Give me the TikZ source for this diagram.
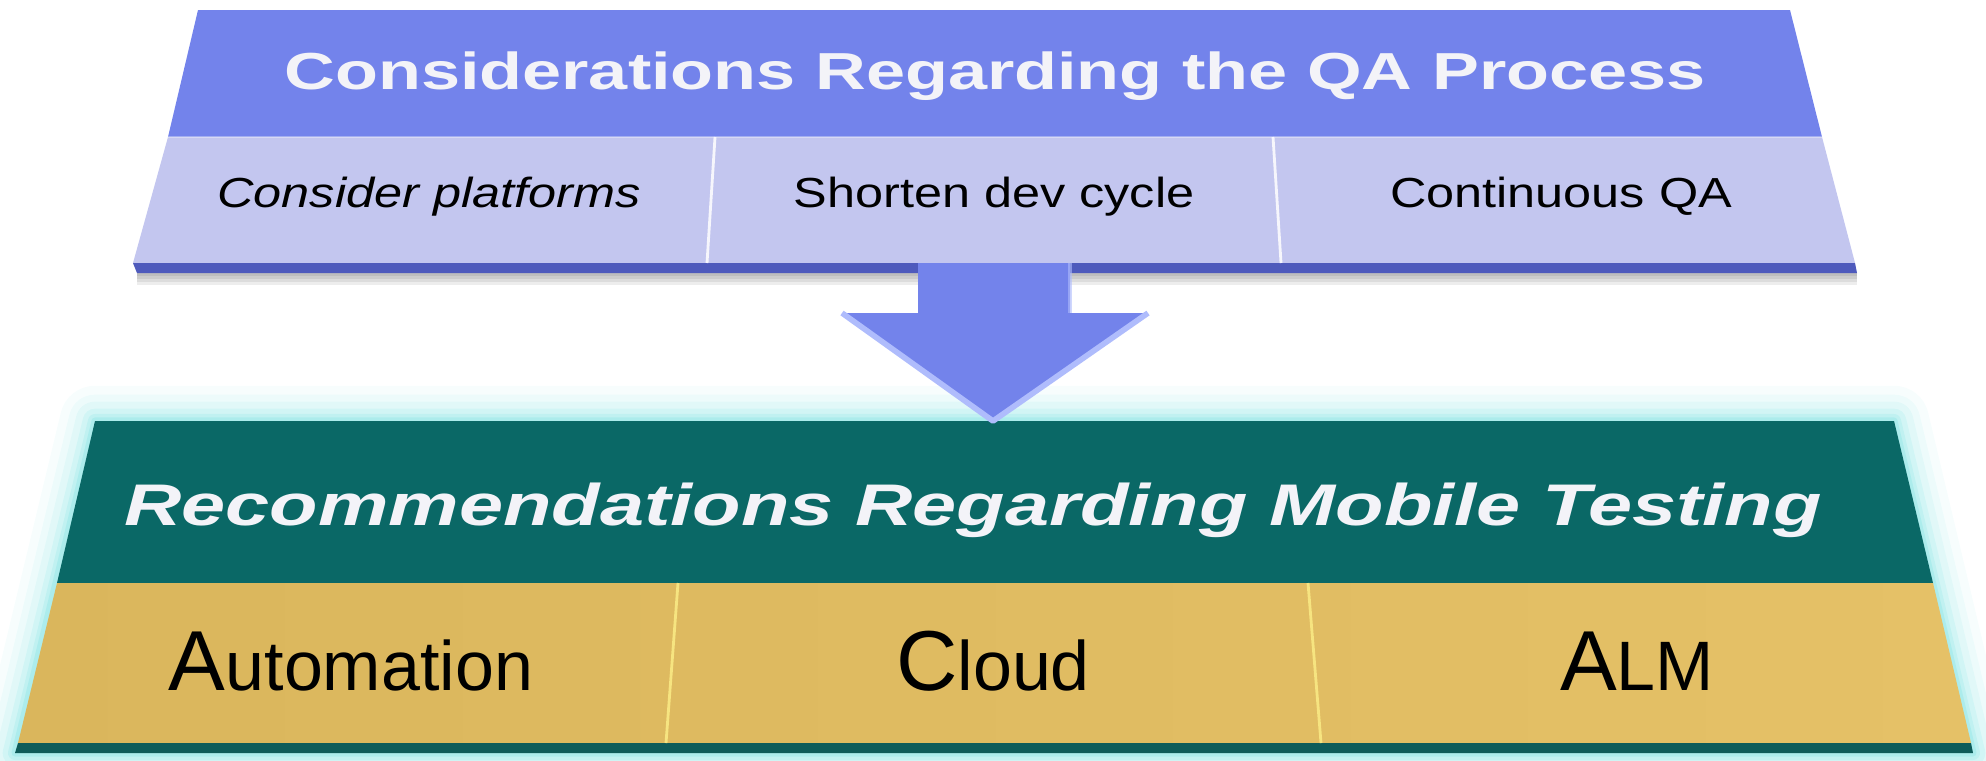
\documentclass[tikz,border=0pt]{standalone}
\usepackage{fontspec}
\setmainfont{Liberation Sans}
\newfontfamily\headfont{Liberation Sans}[FakeStretch=1.35]
\newfontfamily\rowfont{Liberation Sans}[FakeStretch=1.2]

\definecolor{qablue}{RGB}{115,131,235}
\definecolor{qalight}{RGB}{195,198,239}
\definecolor{qaedge}{RGB}{78,90,188}
\definecolor{qahi}{RGB}{175,188,252}
\definecolor{mtteal}{RGB}{10,104,102}
\definecolor{mtedge}{RGB}{14,92,90}
\definecolor{mtgoldl}{RGB}{218,182,92}
\definecolor{mtgoldr}{RGB}{229,193,103}
\definecolor{mtdiv}{RGB}{246,228,128}
\definecolor{mtglow}{RGB}{100,220,220}
\definecolor{hitext}{RGB}{243,243,248}

\newcommand{\firstcap}[2]{{\fontsize{24.2}{28}\selectfont #1}{\fontsize{19.9}{24}\selectfont #2}}

\tikzset{
  headtext/.style={text=hitext, anchor=base, inner sep=0pt},
  rowtext/.style={text=black, anchor=base, inner sep=0pt, font=\rowfont\fontsize{11.95}{14}\selectfont},
  bigtext/.style={text=black, anchor=base, inner sep=0pt},
  divline/.style={white, opacity=0.85, line width=0.8pt},
  golddiv/.style={mtdiv, line width=0.8pt},
  arrowhi/.style={qahi, line width=1.6pt, line join=round}
}

\begin{document}
\begin{tikzpicture}[x=0.01cm,y=-0.01cm]
\useasboundingbox (0,0) rectangle (1986,760);

% upper slab
\coordinate (Q1) at (198,10);
\coordinate (Q2) at (1790,10);
\coordinate (Q3) at (1822,137);
\coordinate (Q4) at (168,137);
\coordinate (Q5) at (1855,263);
\coordinate (Q6) at (133,263);
\coordinate (Q7) at (1857,273);
\coordinate (Q8) at (137,273);
\coordinate (QD1) at (715,137);
\coordinate (QD2) at (707,263);
\coordinate (QD3) at (1273,137);
\coordinate (QD4) at (1281,263);

% lower slab
\coordinate (M1) at (95,421);
\coordinate (M2) at (1894,421);
\coordinate (M3) at (1933,583);
\coordinate (M4) at (57,583);
\coordinate (M5) at (1971,743);
\coordinate (M6) at (18,743);
\coordinate (M7) at (1973,753);
\coordinate (M8) at (15,753);
\coordinate (MD1) at (678,583);
\coordinate (MD2) at (666,743);
\coordinate (MD3) at (1308,583);
\coordinate (MD4) at (1321,743);

% arrow
\coordinate (A1) at (918,263);
\coordinate (A2) at (1070,263);
\coordinate (A3) at (1070,313);
\coordinate (A4) at (1148,313);
\coordinate (A5) at (993,421);
\coordinate (A6) at (842,313);
\coordinate (A7) at (918,313);

% glow of the lower slab
\foreach \w/\o in {20/0.05,15/0.07,11/0.09,7/0.12,4/0.16,2/0.22}
  \draw[mtglow, line width=\w pt, opacity=\o, line join=round] (M1) -- (M2) -- (M7) -- (M8) -- cycle;

% shadow under the upper slab
\foreach \d in {3,6,9,12}
  \fill[black, opacity=0.07] (Q8) -- (Q7) -- ++(0,\d) -- ++(-1720,0) -- cycle;

\fill[qablue] (Q1) -- (Q2) -- (Q3) -- (Q4) -- cycle;
\fill[qalight] (Q4) -- (Q3) -- (Q5) -- (Q6) -- cycle;
\fill[qaedge] (Q6) -- (Q5) -- (Q7) -- (Q8) -- cycle;
\draw[white, opacity=0.35, line width=0.6pt] (Q4) -- (Q3);
\draw[divline] (QD1) -- (QD2);
\draw[divline] (QD3) -- (QD4);

\fill[mtteal] (M1) -- (M2) -- (M3) -- (M4) -- cycle;
\shade[left color=mtgoldl, right color=mtgoldr] (M4) -- (M3) -- (M5) -- (M6) -- cycle;
\fill[mtedge] (M6) -- (M5) -- (M7) -- (M8) -- cycle;
\draw[golddiv] (MD1) -- (MD2);
\draw[golddiv] (MD3) -- (MD4);

% arrow between the slabs
\fill[qablue] (A1) -- (A2) -- (A3) -- (A4) -- (A5) -- (A6) -- (A7) -- cycle;
\draw[arrowhi] (A6) -- (A5) -- (A4);
\draw[qahi, opacity=0.6, line width=1pt] (A2) -- (A3);

% texts
\node[headtext, font=\headfont\bfseries\fontsize{14.8}{18}\selectfont] (hdqa) at (995,89) {Considerations Regarding the QA Process};
\node[rowtext] (rowplat) at (429,207) {\itshape Consider platforms};
\node[rowtext] (rowdev) at (994,207) {Shorten dev cycle};
\node[rowtext] (rowcont) at (1561,207) {Continuous QA};

\node[headtext, font=\headfont\bfseries\itshape\fontsize{16.7}{20}\selectfont] (hdmob) at (973,525) {Recommendations Regarding Mobile Testing};
\node[bigtext] (rowauto) at (351,690) {\firstcap{A}{utomation}};
\node[bigtext] (rowcloud) at (993,690) {\firstcap{C}{loud}};
\node[bigtext] (rowalm) at (1637,690) {\firstcap{A}{LM}};
\end{tikzpicture}
\end{document}
